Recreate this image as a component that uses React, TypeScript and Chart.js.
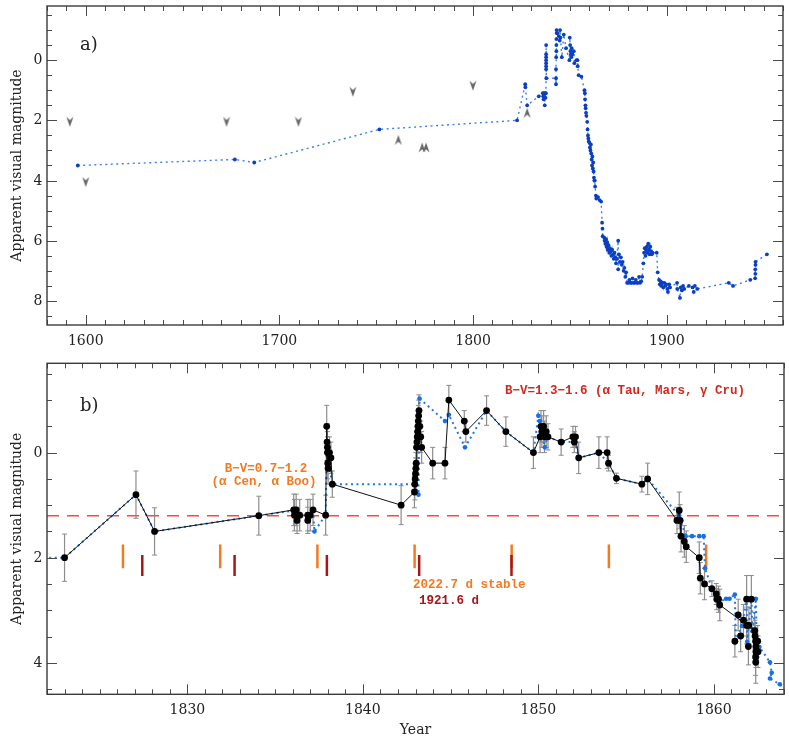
import React, { useEffect, useRef } from 'react';
import { Chart, registerables } from 'chart.js';

Chart.register(...registerables);

// ---------------- Panel a: historical light curve ----------------
const histYears = [
  1595.9, 1677.0, 1687.0, 1751.6, 1822.7, 1826.9, 1827.0, 1827.9, 1833.9, 1836.0,
  1836.2, 1836.4, 1836.5, 1836.7, 1837.0, 1837.2, 1837.4, 1837.6, 1837.7, 1837.7,
  1837.7, 1837.7, 1837.7, 1837.7, 1837.7, 1837.8, 1842.8, 1842.8, 1842.8, 1842.9,
  1843.0, 1843.0, 1843.0, 1843.1, 1843.1, 1843.6, 1844.2, 1844.7, 1844.9, 1845.1,
  1845.8, 1846.8, 1848.0, 1849.7, 1849.9, 1850.1, 1850.3, 1850.5, 1850.7, 1850.9,
  1851.3, 1852.0, 1852.3, 1853.4, 1853.9, 1854.0, 1854.5, 1855.9, 1857.5, 1857.7,
  1857.8, 1858.0, 1858.1, 1858.3, 1858.5, 1858.9, 1859.1, 1859.3, 1859.5, 1859.7,
  1860.1, 1860.3, 1860.6, 1860.8, 1861.0, 1861.2, 1861.4, 1861.6, 1861.8, 1862.0,
  1862.2, 1862.4, 1862.6, 1862.8, 1863.0, 1863.4, 1863.6, 1864.5, 1865.3, 1866.1,
  1866.6, 1866.8, 1866.9, 1867.7, 1867.9, 1868.3, 1868.6, 1868.9, 1869.2, 1869.5,
  1869.9, 1870.3, 1870.6, 1871.0, 1871.4, 1871.8, 1872.2, 1872.6, 1873.0, 1873.4,
  1873.8, 1874.2, 1874.9, 1874.9, 1875.3, 1875.8, 1876.3, 1876.8, 1877.2, 1877.7,
  1878.1, 1878.6, 1879.0, 1879.5, 1880.1, 1880.7, 1881.2, 1881.8, 1882.3, 1882.9,
  1883.4, 1884.0, 1884.6, 1885.1, 1885.7, 1886.2, 1886.8, 1887.3, 1887.9, 1888.3,
  1888.6, 1889.0, 1889.3, 1889.7, 1890.0, 1890.4, 1890.8, 1891.1, 1891.5, 1891.9,
  1892.3, 1892.6, 1894.8, 1895.3, 1896.0, 1896.4, 1896.8, 1897.3, 1897.8, 1898.2,
  1898.7, 1899.2, 1899.7, 1900.3, 1900.6, 1901.2, 1901.7, 1905.3, 1905.4, 1906.8,
  1907.2, 1907.8, 1908.4, 1909.0, 1911.4, 1913.3, 1913.9, 1914.5, 1915.7, 1932.0,
  1934.2, 1943.1, 1945.6, 1945.7, 1945.7, 1945.8, 1945.8, 1951.7,
];
const histMags = [
  3.5, 3.3, 3.4, 2.3, 2.0, 0.8, 0.9, 1.5, 1.2, 1.1,
  1.2, 1.3, 1.1, 1.2, 1.5, 1.1, 1.25, 1.1, 0.3, 0.2,
  0.1, 0.0, -0.1, -0.2, -0.5, 0.6, 0.6, 0.8, 0.3, -0.1,
  -0.3, -0.5, -0.7, -0.9, -1.0, -0.9, -0.8, -0.65, -1.0, -0.75,
  -0.1, -0.85, -0.4, 0.0, -0.75, -0.5, -0.3, -0.2, -0.1, -0.4,
  -0.2, -0.3, 0.1, 0.0, 0.0, 0.2, 0.5, 0.55, 1.0, 1.1,
  1.3, 1.5, 1.6, 1.75, 1.85, 2.05, 2.3, 2.5, 2.6, 2.7,
  2.75, 2.9, 3.0, 2.8, 3.1, 3.3, 3.5, 3.2, 3.6, 3.4,
  3.7, 3.9, 4.0, 4.0, 4.2, 4.5, 4.6, 4.55, 4.65, 4.7,
  5.4, 5.6, 5.85, 5.9, 6.0, 6.1, 5.95, 6.2, 6.05, 6.3,
  6.15, 6.4, 6.25, 6.35, 6.5, 6.3, 6.45, 6.6, 6.4, 6.55,
  6.75, 6.6, 6.0, 6.95, 6.45, 6.7, 6.55, 6.8, 6.7, 7.0,
  6.9, 7.2, 7.05, 7.4, 7.4, 7.3, 7.4, 7.4, 7.25, 7.4,
  7.4, 7.3, 7.4, 7.4, 7.2, 7.4, 7.35, 7.2, 6.75, 6.4,
  6.25, 6.5, 6.3, 6.2, 6.4, 6.1, 6.3, 6.45, 6.2, 6.35,
  6.45, 6.4, 6.4, 7.05, 7.3, 7.45, 7.35, 7.5, 7.4, 7.55,
  7.4, 7.5, 7.45, 7.6, 7.7, 7.45, 7.55, 7.4, 7.6, 7.9,
  7.55, 7.65, 7.5, 7.6, 7.5, 7.55, 7.7, 7.5, 7.6, 7.4,
  7.5, 7.3, 7.25, 7.1, 6.95, 6.8, 6.7, 6.45,
];
// limits (grey arrowheads)
const limDownYears = [1591.8, 1600.0, 1672.7, 1709.8, 1737.9, 1799.9];
const limDownMags = [2.05, 4.05, 2.05, 2.05, 1.05, 0.85];
const limUpYears = [1761.4, 1773.7, 1775.7, 1827.9];
const limUpMags = [2.65, 2.9, 2.9, 1.75];
const axisAYearTicks = [1600, 1700, 1800, 1900];
const axisAMagTicks = [0, 2, 4, 6, 8];

// ---------------- Panel b: 1822-1864 detail ----------------
const obsYears = [
  1823.0, 1827.07, 1828.13, 1834.07, 1836.06, 1836.1, 1836.2, 1836.25, 1836.4, 1836.86,
  1836.86, 1837.0, 1837.16, 1837.88, 1837.94, 1837.96, 1837.98, 1837.98, 1838.0, 1838.02,
  1838.1, 1838.18, 1838.26, 1842.18, 1842.94, 1842.96, 1842.98, 1843.0, 1843.02, 1843.04,
  1843.06, 1843.08, 1843.1, 1843.12, 1843.14, 1843.16, 1843.18, 1843.2, 1843.25, 1843.3,
  1843.35, 1843.98, 1844.68, 1844.9, 1845.78, 1845.87, 1847.05, 1848.15, 1849.72, 1850.1,
  1850.15, 1850.2, 1850.3, 1850.35, 1850.45, 1850.55, 1851.3, 1851.97, 1852.05, 1852.12,
  1852.3, 1853.45, 1853.92, 1854.0, 1854.45, 1855.9, 1856.23, 1857.9, 1858.03, 1858.08,
  1858.13, 1858.32, 1858.43, 1859.17, 1859.23, 1859.47, 1859.89, 1860.14, 1860.17, 1860.27,
  1860.34, 1862.33, 1862.35, 1862.38, 1862.4, 1862.4, 1862.38, 1862.39, 1862.5, 1862.52,
];
const obsMags = [
  2.0, 0.8, 1.5, 1.2, 1.09, 1.19, 1.09, 1.29, 1.19, 1.19,
  1.29, 1.19, 1.09, 1.19, -0.5, -0.2, -0.1, 0.0, 0.2, 0.3,
  0.0, 0.1, 0.6, 1.0, 0.75, 0.6, 0.5, 0.4, 0.3, 0.2,
  -0.1, -0.2, -0.3, -0.4, -0.5, -0.6, -0.7, -0.8, -0.5, -0.3,
  -0.1, 0.2, 0.2, -1.0, -0.6, -0.4, -0.8, -0.4, 0.0, -0.3,
  -0.5, -0.4, -0.5, -0.3, -0.4, -0.3, -0.2, -0.3, -0.2, -0.3,
  0.1, 0.0, 0.0, 0.2, 0.49, 0.6, 0.5, 1.29, 1.1, 1.29,
  1.59, 1.69, 1.79, 2.0, 2.39, 2.5, 2.59, 2.69, 2.79, 2.79,
  2.9, 3.39, 3.49, 3.59, 3.69, 3.79, 3.89, 3.99, 3.59, 3.79,
];
const obsErrs = [
  0.45, 0.45, 0.45, 0.37, 0.3, 0.3, 0.3, 0.25, 0.3, 0.3,
  0.25, 0.3, 0.3, 0.38, 0.4, 0.35, 0.3, 0.3, 0.3, 0.3,
  0.3, 0.3, 0.25, 0.37, 0.3, 0.3, 0.3, 0.3, 0.3, 0.3,
  0.3, 0.3, 0.3, 0.3, 0.3, 0.3, 0.3, 0.3, 0.3, 0.3,
  0.3, 0.3, 0.3, 0.28, 0.2, 0.2, 0.28, 0.28, 0.3, 0.3,
  0.3, 0.3, 0.3, 0.3, 0.3, 0.25, 0.25, 0.2, 0.2, 0.2,
  0.3, 0.3, 0.3, 0.15, 0.1, 0.15, 0.3, 0.25, 0.35, 0.3,
  0.3, 0.3, 0.3, 0.3, 0.3, 0.3, 0.15, 0.2, 0.2, 0.25,
  0.3, 0.35, 0.3, 0.3, 0.3, 0.3, 0.35, 0.4, 0.3, 0.3,
];
const scatYears = [1861.2, 1861.39, 1861.53, 1861.69, 1861.87, 1861.87, 1861.97, 1862.0, 1862.14];
const scatMags = [3.59, 3.09, 3.49, 3.19, 3.29, 2.79, 3.69, 3.29, 2.79];
const scatErrs = [0.3, 0.3, 0.3, 0.3, 0.35, 0.45, 0.35, 0.35, 0.45];
const smoothYears = [
  1821.5, 1823.0, 1827.07, 1828.13, 1834.07, 1836.1, 1836.4, 1836.9, 1837.16, 1837.24,
  1837.88, 1837.94, 1838.26, 1842.9, 1843.17, 1843.23, 1844.68, 1844.9, 1845.82, 1847.05,
  1848.15, 1849.72, 1850.0, 1850.08, 1850.37, 1850.5, 1851.3, 1852.1, 1852.3, 1853.45,
  1854.0, 1854.45, 1855.9, 1856.23, 1858.03, 1858.4, 1858.76, 1859.17, 1859.42, 1859.5,
  1859.89, 1860.3, 1860.7, 1860.9, 1861.2, 1861.25, 1861.6, 1861.87, 1861.9, 1862.14,
  1862.2, 1862.4, 1862.45, 1862.6, 1863.2, 1863.3, 1863.2, 1863.76, 1864.3,
];
const smoothMags = [
  2.0, 2.0, 0.8, 1.5, 1.2, 1.1, 1.2, 1.25, 1.1, 1.5,
  1.19, 0.0, 0.6, 0.6, 0.8, -1.03, -0.6, -0.72, -0.1, -0.8,
  -0.4, 0.0, -0.7, -0.6, -0.1, -0.3, -0.2, -0.2, 0.1, 0.0,
  0.2, 0.49, 0.6, 0.5, 1.2, 1.59, 1.59, 1.59, 1.59, 2.2,
  2.59, 2.85, 2.78, 2.78, 2.7, 3.59, 3.3, 2.78, 3.6, 2.78,
  3.4, 2.78, 3.9, 3.7, 3.99, 4.19, 4.3, 4.41, 4.6,
];
const period2022Years = [1826.33, 1831.87, 1837.41, 1842.95, 1848.48, 1854.02, 1859.56];
const period1921Years = [1827.43, 1832.69, 1837.95, 1843.21, 1848.47];
const period2022Span = [1.75, 2.2];
const period1921Span = [1.95, 2.35];
const bvRedLevel = 1.2;
const axisBYearTicks = [1830, 1840, 1850, 1860];
const axisBMagTicks = [0, 2, 4];

// ---------------- helpers ----------------
const SERIF = "'DejaVu Serif', serif";
const MONO = "'Liberation Mono', 'DejaVu Sans Mono', monospace";
const ORANGE = '#f47a1f';
const DARKRED = '#a8161a';
const RED = '#d2281f';
const TEXT = '#222';

function pts(xs: number[], ys: number[]) {
  return xs.map((x, i) => ({ x, y: ys[i] }));
}
function errSegments(xs: number[], ys: number[], es: number[]) {
  const out: any[] = [];
  xs.forEach((x, i) => {
    out.push({ x, y: ys[i] - es[i] }, { x, y: ys[i] + es[i] }, { x, y: null });
  });
  return out;
}
function vSegments(xs: number[], span: number[]) {
  const out: any[] = [];
  xs.forEach((x) => out.push({ x, y: span[0] }, { x, y: span[1] }, { x, y: null }));
  return out;
}
function chevron(up: boolean, color: string) {
  const c = document.createElement('canvas');
  c.width = 8;
  c.height = 11;
  const g = c.getContext('2d')!;
  g.fillStyle = color;
  g.beginPath();
  if (up) {
    g.moveTo(0.5, 10.5); g.lineTo(4, 7.2); g.lineTo(7.5, 10.5); g.lineTo(4, 0.5);
  } else {
    g.moveTo(0.5, 0.5); g.lineTo(4, 3.8); g.lineTo(7.5, 0.5); g.lineTo(4, 10.5);
  }
  g.closePath();
  g.fill();
  return c;
}

// frame, inward ticks (major + minor) and tick labels, all placed through the chart's scales
function framePlugin(xMinor: number, yMinor: number, xMajor: number, yMajor: number, xLabels: number[], yLabels: number[]) {
  return {
    id: 'frameTicks',
    afterDraw(chart: any) {
      const { ctx, chartArea: a } = chart;
      const xs = chart.scales.x;
      const ys = chart.scales.y;
      ctx.save();
      ctx.strokeStyle = '#4a4a4a';
      ctx.lineWidth = 1;
      const eps = 1e-6;
      const start = (min: number, step: number) => Math.ceil(min / step - eps) * step;
      for (let v = start(xs.min, xMinor); v <= xs.max + eps; v += xMinor) {
        const px = Math.round(xs.getPixelForValue(v)) + 0.5;
        const isMaj = Math.abs(v / xMajor - Math.round(v / xMajor)) < 1e-6;
        const L = isMaj ? 10 : 5;
        ctx.beginPath();
        ctx.moveTo(px, a.bottom); ctx.lineTo(px, a.bottom - L);
        ctx.moveTo(px, a.top); ctx.lineTo(px, a.top + L);
        ctx.stroke();
      }
      for (let v = start(ys.min, yMinor); v <= ys.max + eps; v += yMinor) {
        const py = Math.round(ys.getPixelForValue(v)) + 0.5;
        const isMaj = Math.abs(v / yMajor - Math.round(v / yMajor)) < 1e-6;
        const L = isMaj ? 10 : 5;
        ctx.beginPath();
        ctx.moveTo(a.left, py); ctx.lineTo(a.left + L, py);
        ctx.moveTo(a.right, py); ctx.lineTo(a.right - L, py);
        ctx.stroke();
      }
      ctx.lineWidth = 1.4;
      ctx.strokeStyle = '#3a3a3a';
      ctx.strokeRect(a.left, a.top, a.right - a.left, a.bottom - a.top);

      ctx.fillStyle = TEXT;
      ctx.font = `14px ${SERIF}`;
      ctx.textBaseline = 'middle';
      ctx.textAlign = 'center';
      xLabels.forEach((v) => ctx.fillText(String(v), xs.getPixelForValue(v), a.bottom + 16.5));
      ctx.textAlign = 'right';
      yLabels.forEach((v) => ctx.fillText(String(v), a.left - 4.5, ys.getPixelForValue(v) + 0.5));
      ctx.restore();
    },
  };
}

function axis(min: number, max: number, extra: any) {
  return {
    type: 'linear',
    min,
    max,
    grid: { display: false, drawTicks: false },
    border: { display: false },
    ticks: { display: false },
    ...extra,
  };
}

function yTitle() {
  return {
    display: true,
    text: 'Apparent visual magnitude',
    font: { family: SERIF, size: 14 },
    color: TEXT,
    padding: { top: 9, bottom: 0 },
  };
}

export default function App() {
  const refA = useRef<HTMLCanvasElement>(null);
  const refB = useRef<HTMLCanvasElement>(null);

  useEffect(() => {
    const downImg = chevron(false, '#666');
    const upImg = chevron(true, '#666');

    const labelA = {
      id: 'labelA',
      afterDraw(chart: any) {
        const { ctx, chartArea: a } = chart;
        ctx.save();
        ctx.fillStyle = TEXT;
        ctx.font = `18px ${SERIF}`;
        ctx.textBaseline = 'middle';
        ctx.fillText('a)', a.left + 33, a.top + 39);
        ctx.restore();
      },
    };

    const chartA = new Chart(refA.current!, {
      type: 'line',
      data: {
        datasets: [
          {
            data: pts(limDownYears, limDownMags),
            showLine: false,
            pointStyle: downImg as any,
            pointRadius: 5,
            order: 0,
          },
          {
            data: pts(limUpYears, limUpMags),
            showLine: false,
            pointStyle: upImg as any,
            pointRadius: 5,
            order: 0,
          },
          {
            data: pts(histYears, histMags),
            borderColor: '#3c7fe6',
            borderWidth: 1.4,
            borderDash: [2, 3.5],
            pointRadius: 1.9,
            pointBorderWidth: 0,
            pointBackgroundColor: '#0b3fc2',
            tension: 0,
            order: 1,
          },
        ],
      } as any,
      options: {
        responsive: false,
        maintainAspectRatio: false,
        animation: false,
        events: [],
        layout: { padding: { left: 0, right: 3.3, top: 6, bottom: 0 } },
        plugins: { legend: { display: false }, tooltip: { enabled: false } },
        scales: {
          x: axis(1580, 1960, { afterFit: (s: any) => { s.height = 20; } }),
          y: axis(-1.8, 8.8, {
            reverse: true,
            afterFit: (s: any) => { s.width = 47; },
            title: yTitle(),
          }),
        },
      } as any,
      plugins: [framePlugin(10, 0.5, 100, 2, axisAYearTicks, axisAMagTicks), labelA],
    });

    const labelB = {
      id: 'labelB',
      afterDraw(chart: any) {
        const { ctx, chartArea: a } = chart;
        ctx.save();
        ctx.textBaseline = 'middle';
        ctx.fillStyle = TEXT;
        ctx.font = `18px ${SERIF}`;
        ctx.fillText('b)', a.left + 33, a.top + 43);
        ctx.font = `bold 12.5px ${MONO}`;
        ctx.fillStyle = RED;
        ctx.textAlign = 'left';
        ctx.fillText('B\u2212V=1.3\u22121.6 (\u03b1 Tau, Mars, \u03b3 Cru)', 505, a.top + 28);
        ctx.fillStyle = ORANGE;
        ctx.textAlign = 'center';
        ctx.fillText('B\u2212V=0.7\u22121.2', 266, a.top + 106);
        ctx.fillText('(\u03b1 Cen, \u03b1 Boo)', 264, a.top + 119);
        ctx.textAlign = 'left';
        ctx.fillText('2022.7 d stable', 413, a.top + 222);
        ctx.fillStyle = DARKRED;
        ctx.fillText('1921.6 d', 419, a.top + 237.5);
        ctx.restore();
      },
    };

    const chartB = new Chart(refB.current!, {
      type: 'line',
      data: {
        datasets: [
          {
            data: pts(obsYears, obsMags),
            borderColor: '#111',
            borderWidth: 1,
            pointRadius: 3.4,
            pointBorderWidth: 0,
            pointBackgroundColor: '#000',
            order: 0,
          },
          {
            data: pts(scatYears, scatMags),
            showLine: false,
            pointRadius: 3.4,
            pointBorderWidth: 0,
            pointBackgroundColor: '#000',
            order: 0,
          },
          {
            data: pts(smoothYears, smoothMags),
            borderColor: '#2277e6',
            borderWidth: 2,
            borderDash: [2, 3.5],
            pointRadius: 2.3,
            pointBorderWidth: 0,
            pointBackgroundColor: '#1a6fe6',
            order: 2,
          },
          {
            data: errSegments(obsYears.concat(scatYears), obsMags.concat(scatMags), obsErrs.concat(scatErrs)),
            borderColor: '#8c8c8c',
            borderWidth: 1.2,
            pointStyle: 'line',
            pointRadius: 2.5,
            pointBorderColor: '#8c8c8c',
            pointBorderWidth: 1,
            spanGaps: false,
            order: 3,
          },
          {
            data: vSegments(period1921Years, period1921Span),
            borderColor: DARKRED,
            borderWidth: 2.5,
            pointRadius: 0,
            spanGaps: false,
            order: 4,
          },
          {
            data: vSegments(period2022Years, period2022Span),
            borderColor: ORANGE,
            borderWidth: 2.5,
            pointRadius: 0,
            spanGaps: false,
            order: 5,
          },
          {
            data: [{ x: 1822, y: bvRedLevel }, { x: 1864, y: bvRedLevel }],
            borderColor: '#ee4f38',
            borderWidth: 1.5,
            borderDash: [12, 8],
            pointRadius: 0,
            order: 6,
          },
        ],
      } as any,
      options: {
        responsive: false,
        maintainAspectRatio: false,
        animation: false,
        events: [],
        layout: { padding: { left: 0, right: 3.3, top: 18.3, bottom: 0 } },
        plugins: { legend: { display: false }, tooltip: { enabled: false } },
        scales: {
          x: axis(1822, 1864, {
            afterFit: (s: any) => { s.height = 49.7; },
            title: {
              display: true,
              text: 'Year',
              font: { family: SERIF, size: 14 },
              color: TEXT,
              padding: { top: 0, bottom: 5 },
            },
          }),
          y: axis(-1.7, 4.6, {
            reverse: true,
            afterFit: (s: any) => { s.width = 47; },
            title: yTitle(),
          }),
        },
      } as any,
      plugins: [framePlugin(1, 0.5, 10, 2, axisBYearTicks, axisBMagTicks), labelB],
    });

    return () => {
      chartA.destroy();
      chartB.destroy();
    };
  }, []);

  return (
    <div style={{ position: 'absolute', left: 0, top: 0, width: 789, height: 744, background: '#fff' }}>
      <canvas ref={refA} width={789} height={345} style={{ position: 'absolute', left: 0, top: 0, width: 789, height: 345 }} />
      <canvas ref={refB} width={789} height={399} style={{ position: 'absolute', left: 0, top: 345, width: 789, height: 399 }} />
    </div>
  );
}
